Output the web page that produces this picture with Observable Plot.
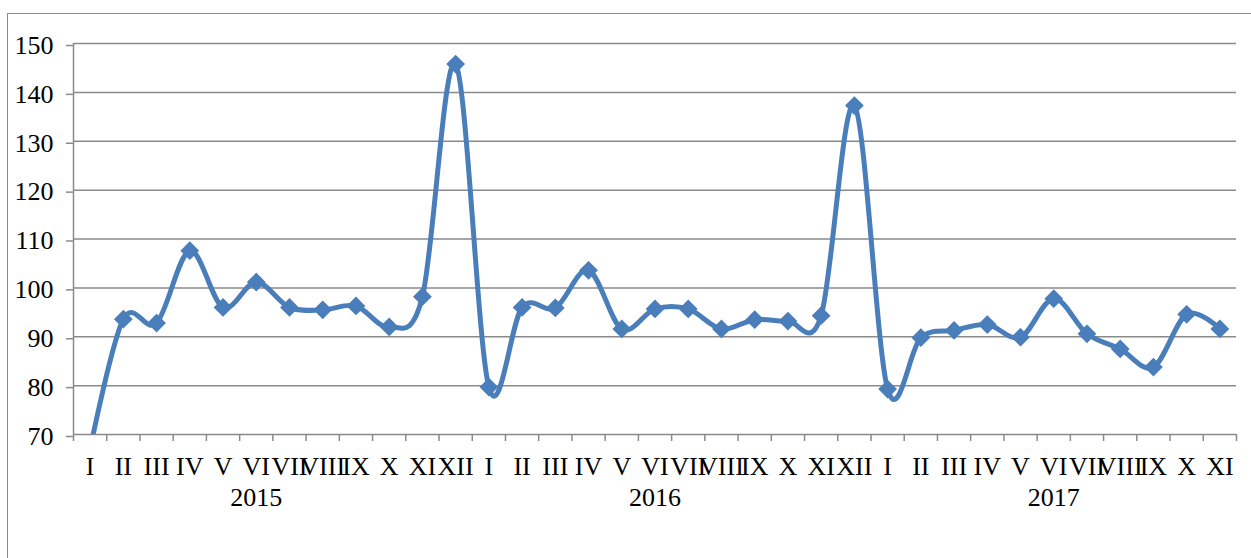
<!DOCTYPE html>
<html><head><meta charset="utf-8">
<script src="https://cdn.jsdelivr.net/npm/d3@7"></script>
<script src="https://cdn.jsdelivr.net/npm/@observablehq/plot@0.6"></script>
<style>
html,body{margin:0;padding:0;background:#fff;overflow:hidden;}
#wrap{position:relative;width:1251px;height:558px;overflow:hidden;}
#frame{position:absolute;left:7px;top:13px;width:1400px;height:700px;border:1.5px solid #8a8a8a;box-sizing:border-box;pointer-events:none;}
</style></head><body>
<div id="wrap"><div id="chart"></div><div id="frame"></div></div>
<script>
const years = ["2015", "2016", "2017"];
const months2015 = ["I","II","III","IV","V","VI","VII","VIII","IX","X","XI","XII"];
const months2016 = ["I","II","III","IV","V","VI","VII","VIII","IX","X","XI","XII"];
const months2017 = ["I","II","III","IV","V","VI","VII","VIII","IX","X","XI"];
const values2015 = [67, 93.6, 92.8, 107.6, 96.0, 101.2, 96.0, 95.5, 96.3, 92.0, 98.2, 145.8];
const values2016 = [79.7, 96.0, 95.9, 103.6, 91.6, 95.7, 95.7, 91.6, 93.5, 93.2, 94.3, 137.3];
const values2017 = [79.3, 89.8, 91.3, 92.5, 89.9, 97.8, 90.6, 87.5, 83.8, 94.6, 91.6];
const yTicks = [70, 80, 90, 100, 110, 120, 130, 140, 150];

const monthsByYear = [months2015, months2016, months2017];
const valuesByYear = [values2015, values2016, values2017];
const rows = [];
years.forEach((y, yi) => {
  monthsByYear[yi].forEach((m, mi) => {
    rows.push({year: y, month: m, value: valuesByYear[yi][mi], pos: rows.length + 0.5});
  });
});
const n = rows.length;
const monthAt = new Map(rows.map(d => [d.pos, d.month]));
// year label sits under the 6th month (VI) of each year
const yearPos = years.map(y => rows.filter(d => d.year === y)[5].pos);
const yearAt = new Map(years.map((y, i) => [yearPos[i], y]));

const gray = "#8a8a8a";
const blue = "#4a7ebb";
const font = "'Liberation Serif', 'Times New Roman', serif";

const chart = Plot.plot({
  width: 1251,
  height: 558,
  marginLeft: 73,
  marginRight: 15,
  marginTop: 43,
  marginBottom: 124,
  style: {fontFamily: font, fontSize: "26px", color: "#000", background: "transparent"},
  x: {type: "linear", domain: [0, n]},
  y: {domain: [70, 150]},
  marks: [
    Plot.gridY({ticks: yTicks, stroke: gray, strokeOpacity: 1, strokeWidth: 1.5}),
    Plot.ruleX([0], {stroke: gray, strokeWidth: 1.5}),
    Plot.axisY({ticks: yTicks, tickSize: 7, tickPadding: 13, stroke: gray, strokeWidth: 1.5, fill: "#000", fontSize: 26, label: null, dy: 2}),
    Plot.axisX({ticks: d3.range(n + 1), tickSize: 7, tickFormat: () => "", stroke: gray, strokeWidth: 1.5, label: null}),
    Plot.axisX({ticks: rows.map(d => d.pos), tickSize: 0, tickPadding: 22, tickFormat: p => monthAt.get(p), fill: "#000", fontSize: 26, label: null}),
    Plot.axisX({ticks: yearPos, tickSize: 0, tickPadding: 53, tickFormat: p => yearAt.get(p), fill: "#000", fontSize: 26, label: null}),
    Plot.line(rows, {x: "pos", y: "value", stroke: blue, strokeWidth: 5, curve: "cardinal", tension: 0, clip: true}),
    Plot.dot(rows, {x: "pos", y: "value", symbol: "diamond2", r: 7.5, fill: blue, stroke: blue, strokeWidth: 1.5, clip: true})
  ]
});
document.getElementById("chart").appendChild(chart);
</script>
</body></html>
